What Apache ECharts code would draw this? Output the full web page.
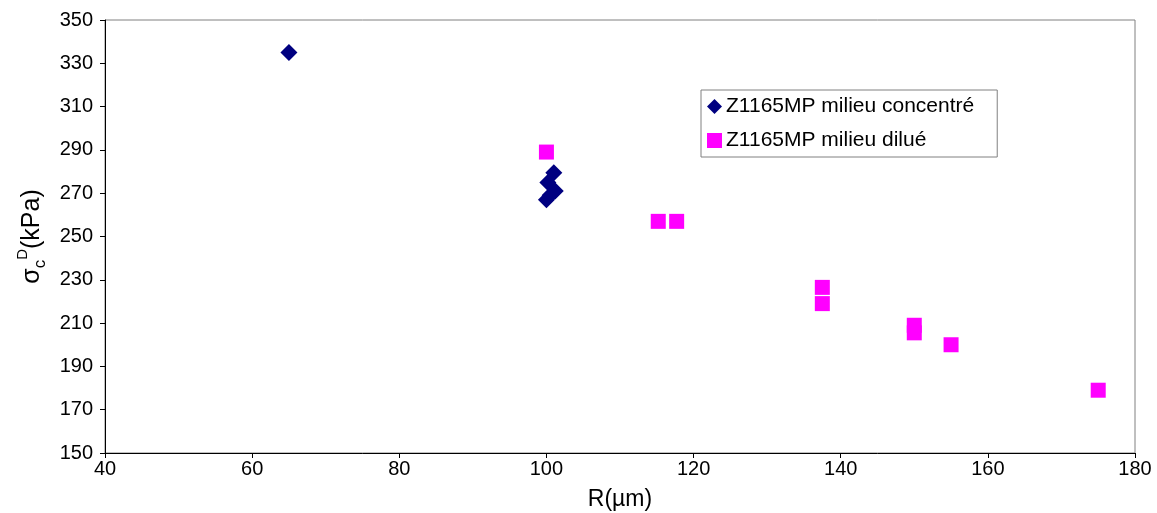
<!DOCTYPE html>
<html><head><meta charset="utf-8">
<script src="https://cdn.jsdelivr.net/npm/echarts@6/dist/echarts.min.js"></script>
<style>html,body{margin:0;padding:0;background:#fff}#c{width:1157px;height:513px}</style>
</head><body><div id="c"></div>
<script>
const seriesNames = ['Z1165MP milieu concentré', 'Z1165MP milieu dilué'];
const concentreR = [65, 101, 100.2, 101.2, 100.5, 100];
const concentreS = [335, 279.5, 275, 271, 269, 267];
const diluR = [100, 115.2, 117.7, 137.5, 137.5, 150, 150, 155, 175];
const diluS = [289, 257, 257, 226.5, 219, 209, 205.5, 200, 179];
const xTicks = {min: 40, max: 180, interval: 20};
const yTicks = {min: 150, max: 350, interval: 20};

const font = 'Liberation Sans, Arial, sans-serif';
const chart = echarts.init(document.getElementById('c'));
chart.setOption({
  animation: false,
  grid: {left: 105, right: 22, top: 20, bottom: 60, show: true, borderColor: '#808080', borderWidth: 1,
         containLabel: false, outerBoundsMode: 'none'},
  legend: {
    left: 701, top: 90, orient: 'vertical', itemGap: 13, itemWidth: 15, itemHeight: 15,
    borderColor: '#808080', borderWidth: 1, padding: [6, 23, 6, 6],
    textStyle: {fontFamily: font, fontSize: 21, color: '#000', padding: [0, 0, 0, -1]},
    data: [{name: seriesNames[0], icon: 'diamond'}, {name: seriesNames[1], icon: 'rect'}]
  },
  xAxis: {
    type: 'value', min: xTicks.min, max: xTicks.max, interval: xTicks.interval,
    name: 'R(µm)', nameLocation: 'middle', nameGap: 35,
    nameTextStyle: {fontFamily: font, fontSize: 23, color: '#000'},
    axisLine: {lineStyle: {color: '#000'}}, axisTick: {lineStyle: {color: '#000'}, length: 5},
    axisLabel: {fontFamily: font, fontSize: 20, color: '#000', margin: 6},
    splitLine: {show: false}
  },
  yAxis: {
    type: 'value', min: yTicks.min, max: yTicks.max, interval: yTicks.interval,
    name: '{s|σ}{sub|c}{sup|D}{s|(kPa)}', nameLocation: 'middle', nameGap: 47, nameRotate: 90,
    nameTextStyle: {fontFamily: font, fontSize: 25, color: '#000',
      rich: {
        s: {fontFamily: font, fontSize: 25, color: '#000'},
        sub: {fontFamily: font, fontSize: 17, color: '#000', verticalAlign: 'bottom', padding: [10, 0, 0, 0]},
        sup: {fontFamily: font, fontSize: 15, color: '#000', verticalAlign: 'top', padding: [0, 0, 18, 0]}
      }},
    axisLine: {show: true, lineStyle: {color: '#000'}}, axisTick: {show: true, lineStyle: {color: '#000'}, length: 5},
    axisLabel: {fontFamily: font, fontSize: 20, color: '#000', margin: 12},
    splitLine: {show: false}
  },
  series: [
    {name: seriesNames[0], type: 'scatter', symbol: 'diamond', symbolSize: 17,
     itemStyle: {color: '#000080', opacity: 1}, data: concentreR.map((r, i) => [r, concentreS[i]])},
    {name: seriesNames[1], type: 'scatter', symbol: 'rect', symbolSize: 15,
     itemStyle: {color: '#FF00FF', opacity: 1}, data: diluR.map((r, i) => [r, diluS[i]])}
  ]
});
</script></body></html>
